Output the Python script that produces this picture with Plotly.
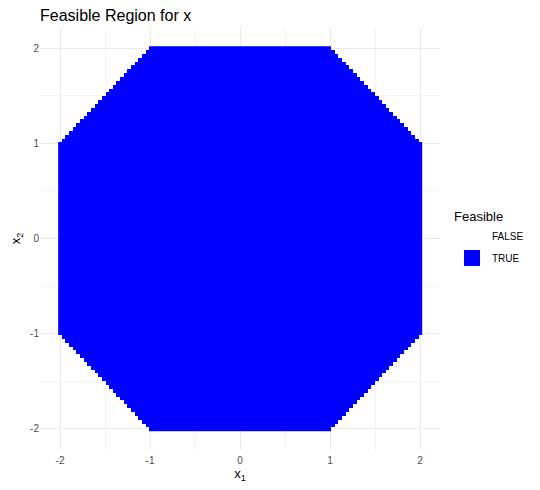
import numpy as np
import plotly.graph_objects as go

# Grid of candidate points (100 points over [-2, 2])
x1_vals = np.linspace(-2, 2, 100)
x2_vals = np.linspace(-2, 2, 100)
# Constraint: box |x_i| <= 2 and |x1| + |x2| <= 3
box_limit = 2.0
l1_limit = 3.0
legend_labels = ["FALSE", "TRUE"]
tick_vals = [-2, -1, 0, 1, 2]
tick_text = ["-2", "-1", "0", "1", "2"]

X1, X2 = np.meshgrid(x1_vals, x2_vals)
feasible = (np.abs(X1) + np.abs(X2) <= l1_limit + 1e-9) & (np.abs(X1) <= box_limit) & (np.abs(X2) <= box_limit)
z = np.where(feasible, 1.0, np.nan)

FONT = "Liberation Sans, Arial, sans-serif"
BLUE = "#0000FF"
W, H = 532, 482  # page adds an 8px body margin

fig = go.Figure()
fig.add_trace(go.Heatmap(
    x=x1_vals, y=x2_vals, z=z,
    colorscale=[[0, BLUE], [1, BLUE]], showscale=False,
    hoverinfo="skip", showlegend=False,
))
fig.add_trace(go.Scatter(
    x=[None], y=[None], mode="markers", name=legend_labels[0], legendgroup="f",
    marker=dict(symbol="square", size=20, color="rgba(0,0,0,0)"),
))
fig.add_trace(go.Scatter(
    x=[None], y=[None], mode="markers", name=legend_labels[1], legendgroup="t",
    marker=dict(symbol="square", size=20, color=BLUE),
))

axis_common = dict(
    showgrid=True, gridcolor="#ebebeb", gridwidth=1,
    minor=dict(dtick=0.5, showgrid=True, gridcolor="#f3f3f3", gridwidth=0.6),
    zeroline=False, showline=False, ticks="",
    tickfont=dict(family=FONT, size=10, color="#4d4d4d"),
    tickvals=tick_vals, ticktext=tick_text, automargin=False,
)

fig.update_layout(
    width=W, height=H,
    margin=dict(l=32, r=100, t=19, b=40, autoexpand=False),
    paper_bgcolor="white", plot_bgcolor="white",
    title=dict(text="Feasible Region for x", x=32 / W, xanchor="left",
               y=1 - 7 / H, yanchor="middle",
               font=dict(family=FONT, size=16, color="black")),
    xaxis=dict(range=[-2.2222, 2.2222], ticklabelstandoff=3,
               title=dict(text="x<sub>1</sub>", font=dict(family=FONT, size=13, color="black"), standoff=0),
               **axis_common),
    yaxis=dict(range=[-2.2222, 2.2222],
               title=dict(text="x<sub>2</sub>", font=dict(family=FONT, size=13, color="black"), standoff=17),
               **axis_common),
    legend=dict(
        title=dict(text="Feasible", font=dict(family=FONT, size=13, color="black")),
        font=dict(family=FONT, size=10, color="black"),
        x=(444 - 32) / 400, xanchor="left", y=0.5, yanchor="middle",
        itemsizing="trace", tracegroupgap=3,
        bgcolor="rgba(0,0,0,0)",
    ),
)

fig.write_html("out.html")
